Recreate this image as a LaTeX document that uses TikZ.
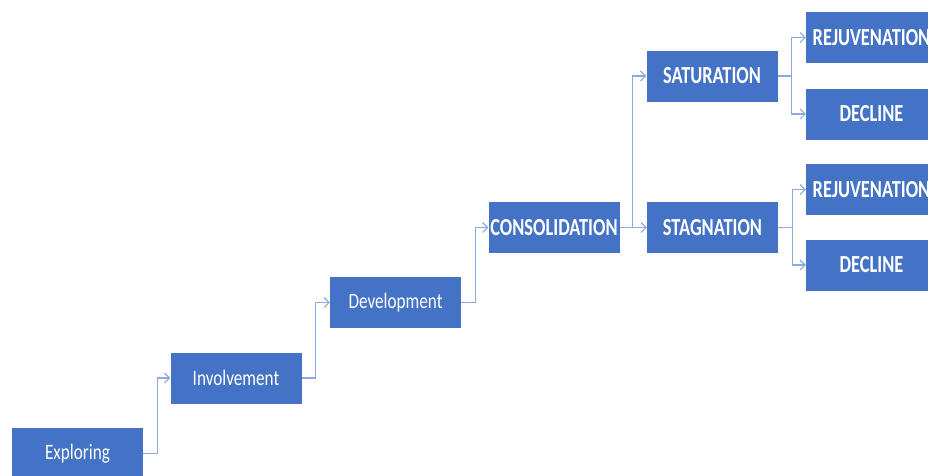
\documentclass[tikz,border=0pt]{standalone}
\usepackage{fontspec}
\setmainfont{Carlito}[FakeStretch=0.78]
\newfontfamily\capfont{Carlito}[FakeStretch=0.75]
\usetikzlibrary{arrows.meta}
\definecolor{boxblue}{HTML}{4472C4}
\definecolor{linkblue}{HTML}{8EA9DB}
\begin{document}
\begin{tikzpicture}[x=1pt,y=-1pt,
  stage/.style={rectangle, fill=boxblue, draw=none, minimum width=131pt, minimum height=51pt,
    inner sep=0pt, text=white, font=\fontsize{22}{24}\selectfont},
  capstage/.style={stage, font=\capfont\fontsize{24.5}{26}\selectfont\bfseries},
  link/.style={draw=linkblue, line width=1.3pt, -{Straight Barb[length=5pt,width=10pt,line width=1.1pt]}}]
\useasboundingbox (0,0) rectangle (928,475);
\begin{scope}
\clip (0,0) rectangle (928,475);
\node[stage] (expl) at (77.5,453.5) {Exploring};
\node[stage] (invo) at (236,378) {Involvement};
\node[stage] (deve) at (395.5,302.5) {Development};
\node[capstage] (cons) at (554,227.5) {CONSOLIDATION};
\node[capstage] (satu) at (712,76) {SATURATION};
\node[capstage] (stag) at (712.5,227.5) {STAGNATION};
\node[capstage] (rej1) at (871.5,37.5) {REJUVENATION};
\node[capstage] (dec1) at (871.5,114) {DECLINE};
\node[capstage] (rej2) at (871.5,189.5) {REJUVENATION};
\node[capstage] (dec2) at (871.5,265) {DECLINE};
\end{scope}
\draw[link] (expl.east) -- ++(14,0) |- (invo.west);
\draw[link] (invo.east) -- ++(14,0) |- (deve.west);
\draw[link] (deve.east) -- ++(14,0) |- (cons.west);
\draw[link] (cons.east) -- ++(13,0) |- (satu.west);
\draw[link] (cons.east) -- (stag.west);
\draw[link] (satu.east) -- ++(14,0) |- (rej1.west);
\draw[link] (satu.east) -- ++(14,0) |- (dec1.west);
\draw[link] (stag.east) -- ++(14,0) |- (rej2.west);
\draw[link] (stag.east) -- ++(14,0) |- (dec2.west);
\end{tikzpicture}
\end{document}
